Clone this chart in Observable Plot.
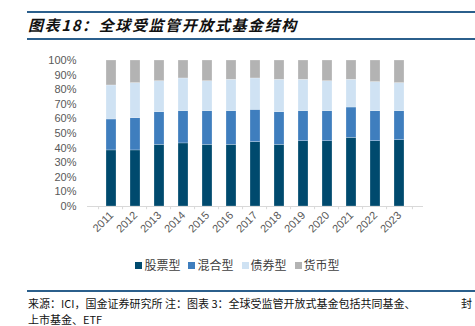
<!DOCTYPE html>
<html><head><meta charset="utf-8">
<script src="https://cdn.jsdelivr.net/npm/d3@7"></script>
<script src="https://cdn.jsdelivr.net/npm/@observablehq/plot@0.6"></script>
<style>
html,body{margin:0;padding:0;background:#fff;width:475px;height:326px;overflow:hidden;position:relative;font-family:"Liberation Sans",Arial,sans-serif;}
.hline{position:absolute;left:27px;right:0;height:2px;background:#2b5f8c;}
#title{position:absolute;left:28px;top:15px;font-family:"Noto Sans CJK SC",sans-serif;font-size:15px;font-style:italic;font-weight:bold;letter-spacing:1.6px;color:#111;line-height:20px;white-space:nowrap;}
#chart{position:absolute;left:0;top:50px;}
#legend{position:absolute;left:0;width:475px;top:257px;text-align:center;font-family:"Noto Sans CJK SC",sans-serif;font-size:12px;color:#404040;line-height:16px;white-space:nowrap;}
#legend span.item{margin:0 4px;}
#legend i{display:inline-block;width:7px;height:7px;margin-right:2px;vertical-align:1px;}
.foot{position:absolute;left:28px;font-family:"Noto Sans CJK SC",sans-serif;font-size:11px;color:#111;white-space:nowrap;line-height:12px;letter-spacing:0;}
</style></head>
<body>
<div class="hline" style="top:11px"></div>
<div id="title">图表18：全球受监管开放式基金结构</div>
<div class="hline" style="top:38px"></div>
<div id="chart"></div>
<div id="legend"></div>
<div class="hline" style="top:290px"></div>
<div class="foot" style="top:297px">来源：ICI，国金证券研究所 注：图表 3：全球受监管开放式基金包括共同基金、</div>
<div class="foot" style="top:297px;left:461px">封</div>
<div class="foot" style="top:313px">上市基金、ETF</div>
<script>
const years = ["2011","2012","2013","2014","2015","2016","2017","2018","2019","2020","2021","2022","2023"];
const seriesNames = ["股票型","混合型","债券型","货币型"];
const seriesColors = ["#004a6e","#3f7ebe","#cfe2f3","#b3b3b3"];
const stock = [38.4,38.4,42.2,43.2,42.2,42.2,44.1,42.2,44.7,44.7,47.0,44.7,45.4];
const mixed = [21.2,22.1,22.4,22.1,23.1,23.1,22.1,22.4,20.6,20.6,20.8,20.6,19.9];
const bond  = [23.3,24.0,21.2,22.4,20.5,21.5,21.5,22.2,21.5,20.5,19.0,19.9,19.2];
const money = [17.1,15.5,14.2,12.3,14.2,13.2,12.3,13.2,13.2,14.2,13.2,14.8,15.5];
const yTicks = [0,10,20,30,40,50,60,70,80,90,100];

const seriesVals = [stock, mixed, bond, money];
const data = [];
seriesNames.forEach((s, si) => years.forEach((y, i) => data.push({year: y, type: s, value: seriesVals[si][i]})));

const step = (475 - 87 - 52) / years.length;
const chart = Plot.plot({
  width: 475, height: 200,
  marginLeft: 87, marginRight: 52, marginTop: 10, marginBottom: 44,
  style: {fontFamily: "'Liberation Sans', Arial, sans-serif", fontSize: "11px", color: "#595959", background: "transparent"},
  x: {domain: years, padding: 0.57, label: null},
  y: {domain: [0, 100], label: null},
  color: {domain: seriesNames, range: seriesColors},
  marks: [
    Plot.barY(data, {x: "year", y: "value", fill: "type", stroke: "#ffffff", strokeWidth: 0.4, strokeOpacity: 0.6}),
    Plot.ruleY([0], {stroke: "#d9d9d9", strokeWidth: 1}),
    Plot.ruleX(years, {x: d => d, y1: 0, y2: -2.2, dx: -step / 2, stroke: "#d9d9d9"}),
    Plot.ruleX([years[years.length - 1]], {x: d => d, y1: 0, y2: -2.2, dx: step / 2, stroke: "#d9d9d9"}),
    Plot.axisY({ticks: yTicks, tickSize: 0, tickPadding: 11, tickFormat: d => d + "%", fontSize: 11, fill: "#595959"}),
    Plot.axisX({tickSize: 0, tickPadding: 7, tickRotate: -45, fontSize: 11, fill: "#595959"})
  ]
});
document.getElementById("chart").appendChild(chart);

const lg = document.getElementById("legend");
seriesNames.forEach((s, i) => {
  const sp = document.createElement("span");
  sp.className = "item";
  sp.innerHTML = `<i style="background:${seriesColors[i]}"></i>${s}`;
  lg.appendChild(sp);
});
</script>
</body></html>
